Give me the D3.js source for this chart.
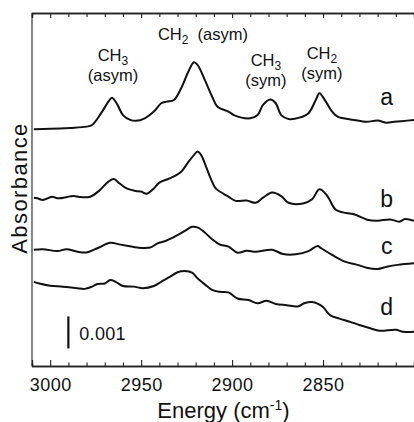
<!DOCTYPE html>
<html><head><meta charset="utf-8">
<script src="https://cdn.jsdelivr.net/npm/d3@7"></script>
<style>
body{margin:0;background:#fff}
svg{display:block}
text{font-family:"Liberation Sans",Arial,Helvetica,sans-serif;fill:#111}
</style>
</head><body>
<script>
// Spectra: [wavenumber (cm-1), stacked absorbance in units of 0.001]
const specA = [[3009,7.40],[3000,7.41],[2989,7.44],[2980,7.48],[2977,7.53],[2972,7.90],[2968,8.26],[2966,8.38],[2963,8.16],[2960,7.84],[2956,7.69],[2953,7.66],[2948,7.74],[2943,7.95],[2939,8.21],[2936,8.26],[2932,8.31],[2928,8.68],[2924,9.20],[2921,9.49],[2919,9.41],[2915,8.94],[2911,8.42],[2908,8.10],[2902,7.95],[2899,7.84],[2890,7.74],[2886,7.84],[2883,8.16],[2879,8.33],[2876,8.21],[2873,7.84],[2869,7.72],[2863,7.76],[2858,7.90],[2854,8.31],[2852,8.52],[2849,8.31],[2845,7.95],[2842,7.79],[2833,7.69],[2826,7.63],[2820,7.67],[2815,7.60],[2811,7.63],[2800,7.69]];
const specB = [[3009,5.26],[3007,5.24],[3004,5.19],[2999,5.29],[2996,5.24],[2987,5.31],[2984,5.28],[2978,5.29],[2973,5.48],[2968,5.76],[2965,5.84],[2962,5.71],[2958,5.55],[2953,5.47],[2950,5.45],[2947,5.38],[2943,5.55],[2940,5.73],[2934,5.87],[2928,6.07],[2924,6.38],[2921,6.59],[2919,6.70],[2917,6.59],[2914,6.18],[2911,5.76],[2909,5.55],[2902,5.29],[2898,5.16],[2892,5.17],[2887,5.10],[2883,5.26],[2878,5.42],[2873,5.31],[2869,5.10],[2861,5.08],[2856,5.21],[2852,5.52],[2848,5.34],[2843,4.88],[2839,4.80],[2833,4.74],[2825,4.56],[2820,4.54],[2813,4.58],[2808,4.51],[2805,4.59],[2800,4.54]];
const specC = [[3009,3.63],[3004,3.65],[2996,3.59],[2991,3.65],[2985,3.57],[2980,3.55],[2974,3.68],[2967,3.85],[2962,3.80],[2957,3.75],[2952,3.70],[2945,3.70],[2941,3.83],[2936,3.92],[2930,4.09],[2926,4.22],[2922,4.35],[2919,4.33],[2915,4.17],[2911,3.96],[2907,3.80],[2902,3.73],[2897,3.54],[2892,3.60],[2887,3.57],[2878,3.63],[2872,3.50],[2865,3.49],[2858,3.59],[2853,3.75],[2851,3.68],[2845,3.47],[2838,3.26],[2831,3.16],[2826,3.07],[2820,3.03],[2815,3.10],[2809,3.16],[2800,3.21]];
const specD = [[3009,2.63],[3006,2.58],[3000,2.51],[2993,2.48],[2985,2.43],[2981,2.41],[2977,2.48],[2974,2.56],[2970,2.58],[2967,2.69],[2964,2.63],[2960,2.50],[2954,2.48],[2949,2.43],[2943,2.50],[2939,2.63],[2934,2.79],[2930,2.93],[2926,2.97],[2922,2.92],[2919,2.74],[2915,2.55],[2911,2.38],[2907,2.32],[2902,2.30],[2897,2.11],[2891,2.06],[2886,1.96],[2881,2.04],[2876,1.94],[2870,1.90],[2864,1.86],[2860,1.97],[2856,2.00],[2853,1.95],[2850,1.84],[2846,1.58],[2841,1.48],[2835,1.38],[2830,1.28],[2824,1.18],[2819,1.10],[2810,1.13],[2806,1.07],[2800,1.07]];
const seriesNames = ["a","b","c","d"];
const majorTicks = [3000,2950,2900,2850];
const minorTicks = [3010,2990,2980,2970,2960,2940,2930,2920,2910,2890,2880,2870,2860,2840,2830,2820,2810];
const scaleBarValue = 1; // 0.001 absorbance
const scaleBarLabel = "0.001";
const bandNames = [["CH","3","(asym)",2965.5],["CH","2","(asym)",2916],["CH","3","(sym)",2881.4],["CH","2","(sym)",2850.6]];

const W = 414, H = 422;
const svg = d3.select("body").append("svg").attr("width", W).attr("height", H);
const x = d3.scaleLinear().domain([3010, 2800]).range([32, 414]);
const y = d3.scaleLinear().domain([0, 11.03]).range([366, 13]);

// frame lines
svg.append("line").attr("x1",32).attr("x2",32).attr("y1",y(11.03)).attr("y2",y(0))
  .attr("stroke","#444").attr("stroke-width",1.3);

// bottom axis (ticks inward)
const gB = svg.append("g").attr("transform",`translate(0,${y(0)})`);
gB.call(d3.axisBottom(x).tickValues(majorTicks).tickSize(-6).tickPadding(10).tickFormat(d3.format("d")));
gB.append("g").call(d3.axisBottom(x).tickValues(minorTicks).tickSize(-3.5).tickFormat(""));
gB.selectAll(".domain").attr("stroke","#222").attr("stroke-width",1.3);
gB.selectAll(".tick line").attr("stroke","#222").attr("stroke-width",1.1);
gB.selectAll("g > .tick text").attr("font-size",18).attr("font-family","Liberation Sans, Arial, sans-serif")
  .attr("fill","#111").attr("letter-spacing",0.5).attr("dy","0.85em");

// top axis (ticks inward)
const gT = svg.append("g").attr("transform",`translate(0,${y(11.03)})`);
gT.call(d3.axisTop(x).tickValues(majorTicks).tickSize(-5).tickFormat(""));
gT.append("g").call(d3.axisTop(x).tickValues(minorTicks).tickSize(-4).tickFormat(""));
gT.selectAll(".domain").attr("stroke","#222").attr("stroke-width",1.3);
gT.selectAll(".tick line").attr("stroke","#222").attr("stroke-width",1.1);

// spectra
const line = d3.line().x(d=>x(d[0])).y(d=>y(d[1])).curve(d3.curveCatmullRom.alpha(0.5));
[specA,specB,specC,specD].forEach(s=>{
  svg.append("path").datum(s).attr("d",line).attr("fill","none")
    .attr("stroke","#111").attr("stroke-width",2).attr("stroke-linejoin","round");
});

// series labels
const labelAnchors = [8.16, 4.97, 3.5, 1.59];
seriesNames.forEach((n,i)=>{
  svg.append("text").attr("x",x(2815)).attr("y",y(labelAnchors[i]))
    .attr("text-anchor","middle").attr("font-size",23).text(n);
});

// band annotations
const bandY = [[61,81],[40,40],[66,86],[59,79]];
bandNames.forEach((b,i)=>{
  if(i===1){
    const t = svg.append("text").attr("x",x(b[3])).attr("y",bandY[i][0])
      .attr("text-anchor","middle").attr("font-size",16.5).style("white-space","pre");
    t.append("tspan").text(b[0]);
    t.append("tspan").attr("font-size",12).attr("dy",3.5).text(b[1]);
    t.append("tspan").attr("dy",-3.5).text("  "+b[2]);
  } else {
    const t = svg.append("text").attr("x",x(b[3])).attr("y",bandY[i][0])
      .attr("text-anchor","middle").attr("font-size",16.5);
    t.append("tspan").text(b[0]);
    t.append("tspan").attr("font-size",12).attr("dy",3.5).text(b[1]);
    svg.append("text").attr("x",x(b[3])).attr("y",bandY[i][1])
      .attr("text-anchor","middle").attr("font-size",16.5).text(b[2]);
  }
});

// scale bar
const sbBase = 0.55;
svg.append("line").attr("x1",x(2990)).attr("x2",x(2990))
  .attr("y1",y(sbBase)).attr("y2",y(sbBase+scaleBarValue))
  .attr("stroke","#111").attr("stroke-width",2.2);
svg.append("text").attr("x",x(2984)).attr("y",y(sbBase)-8.5)
  .attr("font-size",18).attr("letter-spacing",0.3).text(scaleBarLabel);

// axis titles
const xt = svg.append("text").attr("x",223.5).attr("y",418).attr("text-anchor","middle").attr("font-size",22);
xt.append("tspan").text("Energy (cm");
xt.append("tspan").attr("font-size",14).attr("dy",-8).text("-1");
xt.append("tspan").attr("dy",8).text(")");

svg.append("text").attr("transform","translate(27,188) rotate(-90)")
  .attr("text-anchor","middle").attr("font-size",22).attr("letter-spacing",1.4).text("Absorbance");
</script>
</body></html>
